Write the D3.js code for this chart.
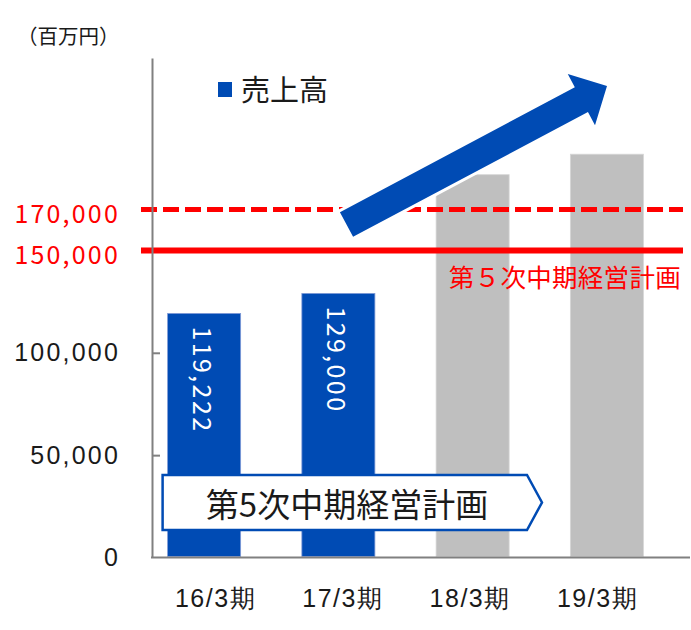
<!DOCTYPE html>
<html>
<head>
<meta charset="utf-8">
<style>
    body { margin: 0; background: #fff; }
    svg { display: block; font-family: "Noto Sans CJK JP", "Noto Sans", sans-serif; }
    .y .domain { stroke: #808080; stroke-width: 2; }
    .y .tick line { stroke: #808080; stroke-width: 2; }
    .y .tick text { font-size: 25px; fill: #1a1a1a; letter-spacing: 2.2px; }
    .x .domain { display: none; }
    .x .tick line { display: none; }
    .x .tick text { font-size: 25px; fill: #1a1a1a; letter-spacing: 1.5px; }
</style>
</head>
<body>
<svg width="691" height="630"></svg>

<script src="https://cdnjs.cloudflare.com/ajax/libs/d3/7.8.5/d3.min.js"></script>
<script>

// data
const periods = ["16/3期", "17/3期", "18/3期", "19/3期"];
const sales = [119222, 129000, 187000, 197000];
const actual = [true, true, false, false];   // blue = actual, grey = outlook
const tickValues = [0, 50000, 100000];
const targetValues = [150000, 170000];
const planLabel = "第５次中期経営計画";
const bannerLabel = "第5次中期経営計画";

const blue = "#004bb4";
const grey = "#bfbfbf";
const red = "#ff0000";

let svg = d3.select("svg");

let y = d3.scaleLinear()
    .domain([0, 244000])
    .range([557.5, 58]);

let x = d3.scaleBand()
    .domain(periods)
    .range([137, 674])
    .paddingInner(0.456)
    .paddingOuter(0.228);

// labels sit a little off the bar centres in the original
let xLabel = d3.scalePoint()
    .domain(periods)
    .range([215, 597]);

let rows = periods.map((p, i) => ({ period: p, value: sales[i], actual: actual[i] }));

// bars
svg.append("g")
    .selectAll("rect")
    .data(rows)
    .join("rect")
    .attr("x", d => x(d.period))
    .attr("y", d => y(d.value))
    .attr("width", x.bandwidth())
    .attr("height", d => y(0) - y(d.value) - 1)
    .style("fill", d => d.actual ? blue : grey)
    .style("stroke", d => d.actual ? "#7f9ad6" : "#d6d6d6")
    .style("stroke-width", 0.8);

// rotated value labels on actual bars
svg.append("g")
    .selectAll("text")
    .data(rows.filter(d => d.actual))
    .join("text")
    .attr("transform", d => `translate(${x(d.period) + x.bandwidth() / 2},${y(d.value) + 13}) rotate(90)`)
    .attr("dominant-baseline", "central")
    .style("font-size", "25px")
    .style("letter-spacing", "2.4px")
    .style("fill", "#fff")
    .text(d => d3.format(",")(d.value));

// target lines
svg.append("line")
    .attr("x1", 141).attr("x2", 683)
    .attr("y1", y(targetValues[0])).attr("y2", y(targetValues[0]))
    .style("stroke", red)
    .style("stroke-width", 6);

svg.append("line")
    .attr("x1", 141).attr("x2", 683)
    .attr("y1", y(targetValues[1])).attr("y2", y(targetValues[1]))
    .style("stroke", red)
    .style("stroke-width", 5)
    .style("stroke-dasharray", "16 6");

svg.append("g")
    .selectAll("text")
    .data(targetValues)
    .join("text")
    .attr("x", 120)
    .attr("y", d => y(d) + 3)
    .attr("text-anchor", "end")
    .attr("dominant-baseline", "central")
    .style("font-size", "25px")
    .style("letter-spacing", "2.2px")
    .style("fill", red)
    .text(d => d3.format(",")(d));

svg.append("text")
    .attr("x", 681)
    .attr("y", y(targetValues[0]) + 25)
    .attr("text-anchor", "end")
    .attr("dominant-baseline", "central")
    .style("font-size", "25.5px")
    .style("letter-spacing", "0.3px")
    .style("fill", red)
    .text(planLabel);

// growth arrow
let tail = [346.5, 224.5], tip = [607, 86];
let shaftW = 28, headW = 58, headL = 29;
let dx = tip[0] - tail[0], dy = tip[1] - tail[1];
let len = Math.hypot(dx, dy);
let ux = dx / len, uy = dy / len, px = -uy, py = ux;
let base = [tip[0] - ux * headL, tip[1] - uy * headL];
let pt = (c, s) => [c[0] + px * s, c[1] + py * s];
let arrowPts = [
    pt(tail, shaftW / 2), pt(base, shaftW / 2), pt(base, headW / 2), tip,
    pt(base, -headW / 2), pt(base, -shaftW / 2), pt(tail, -shaftW / 2)
];
svg.append("path")
    .attr("d", d3.line()(arrowPts) + "Z")
    .style("fill", blue)
    .style("stroke", "#fff")
    .style("stroke-width", 6)
    .style("paint-order", "stroke")
    .style("stroke-linejoin", "miter");

// banner
let bx0 = x(periods[0]) - 5, bx1 = 527, btop = 475, bbot = 530;
svg.append("path")
    .attr("d", d3.line()([[bx0, btop], [bx1, btop], [bx1 + 15, (btop + bbot) / 2], [bx1, bbot], [bx0, bbot]]) + "Z")
    .style("fill", "#fff")
    .style("stroke", blue)
    .style("stroke-width", 2.5);

svg.append("text")
    .attr("x", 347)
    .attr("y", (btop + bbot) / 2)
    .attr("text-anchor", "middle")
    .attr("dominant-baseline", "central")
    .style("font-size", "33px")
    .style("fill", "#1a1a1a")
    .text(bannerLabel);

// axes
let yAxis = svg.append("g")
    .attr("class", "y")
    .attr("transform", "translate(152,0)")
    .call(d3.axisLeft(y)
        .tickValues(tickValues)
        .tickSizeInner(-8)
        .tickSizeOuter(0)
        .tickPadding(32)
        .tickFormat(d3.format(",")));
yAxis.selectAll(".tick").filter(d => d === 0).select("line").remove();

svg.append("line")
    .attr("x1", 151).attr("x2", 690)
    .attr("y1", y(0)).attr("y2", y(0))
    .style("stroke", "#808080")
    .style("stroke-width", 2);

svg.append("g")
    .attr("class", "x")
    .attr("transform", "translate(0,589)")
    .call(d3.axisBottom(xLabel).tickSize(0).tickPadding(0));

// unit + legend
svg.append("text")
    .attr("x", 17)
    .attr("y", 35)
    .attr("dominant-baseline", "central")
    .style("font-size", "20.5px")
    .style("fill", "#1a1a1a")
    .text("（百万円）");

svg.append("rect")
    .attr("x", 218).attr("y", 82)
    .attr("width", 14).attr("height", 15)
    .style("fill", blue);

svg.append("text")
    .attr("x", 241)
    .attr("y", 88)
    .attr("dominant-baseline", "central")
    .style("font-size", "29px")
    .style("fill", "#1a1a1a")
    .text("売上高");

</script>
</body>
</html>
